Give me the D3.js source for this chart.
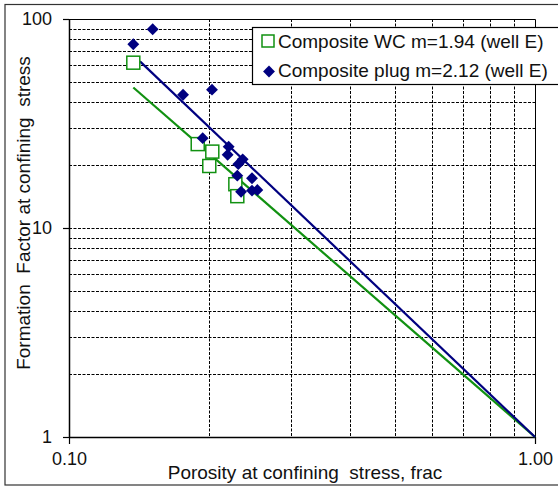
<!DOCTYPE html>
<html><head><meta charset="utf-8">
<script src="https://cdn.jsdelivr.net/npm/d3@7"></script>
<style>body{margin:0;background:#fff}svg{display:block}text{font-family:Arial,"Liberation Sans",sans-serif;fill:#111}</style>
</head><body>
<svg id="c" width="558" height="487"></svg>
<script>
// Data
const wcPoints = [ // Composite WC (open green squares): [porosity, formation factor]
  [0.1374, 61.8], [0.1889, 25.2], [0.2030, 23.2], [0.2000, 19.8], [0.2275, 16.2], [0.2297, 14.2]
];
const plugPoints = [ // Composite plug (blue diamonds)
  [0.1374, 75.7], [0.1512, 89.3], [0.1757, 43.4], [0.2027, 45.9], [0.1936, 26.9],
  [0.2201, 24.5], [0.2190, 22.4], [0.2359, 21.3], [0.2308, 20.2], [0.2297, 17.8],
  [0.2470, 17.3], [0.2340, 14.9], [0.2470, 15.1], [0.2536, 15.2]
];
const wcLine = [[0.1374, 47.0], [1.0, 1.0]];   // m = 1.94
const plugLine = [[0.1420, 62.7], [1.0, 1.0]]; // m = 2.12
const legendLabels = ["Composite WC m=1.94 (well E)", "Composite plug m=2.12 (well E)"];
const xTickLabels = ["0.10", "1.00"];
const xTickValues = [0.1, 1];
const yTickValues = [1, 10, 100];
const xTitle = "Porosity at confining  stress, frac";
const yTitle = "Formation  Factor at confining  stress";

const svg = d3.select("#c");
const L = 69, R = 535, T = 19, B = 437;
const x = d3.scaleLog().domain([0.1, 1]).range([L, R]);
const y = d3.scaleLog().domain([1, 100]).range([B, T]);
const blue = "#000080", green = "#119111";

// outer border
svg.append("rect").attr("x", 5).attr("y", 4.5).attr("width", 600).attr("height", 480.5)
  .attr("fill", "none").attr("stroke", "#333").attr("stroke-width", 1.2);

// gridlines
const gx = [], gy = [];
for (let v = 0.2; v < 0.95; v += 0.1) gx.push(+v.toFixed(1));
[1, 10].forEach(d => { for (let k = 2; k <= 10; k++) gy.push(d * k); });
const grid = svg.append("g").attr("stroke", "#000").attr("stroke-width", 1).attr("stroke-dasharray", "3,1.5");
grid.selectAll("line.gx").data(gx).join("line")
  .attr("x1", d => Math.round(x(d)) + 0.5).attr("x2", d => Math.round(x(d)) + 0.5)
  .attr("y1", T).attr("y2", B);
grid.selectAll("line.gy").data(gy.filter(d => d < 100)).join("line")
  .attr("y1", d => Math.round(y(d)) + 0.5).attr("y2", d => Math.round(y(d)) + 0.5)
  .attr("x1", L).attr("x2", R);

// plot frame top/right
svg.append("path").attr("d", `M${L},${T + 0.5}H${R + 0.5}V${B}`).attr("fill", "none").attr("stroke", "#000").attr("stroke-width", 1);

// axes
const yAxis = d3.axisLeft(y).tickValues(yTickValues).tickFormat(d3.format("d")).tickSize(6).tickPadding(11);
const gY = svg.append("g").attr("transform", `translate(${L},0)`).call(yAxis);
const xAxis = d3.axisBottom(x).tickValues(xTickValues).tickFormat((d, i) => xTickLabels[i]).tickSize(7).tickPadding(8);
const gX = svg.append("g").attr("transform", `translate(0,${B})`).call(xAxis);
[gX, gY].forEach(g => {
  g.select(".domain").attr("stroke", "#000").attr("stroke-width", 1.5);
  g.selectAll(".tick line").attr("stroke", "#000").attr("stroke-width", 1.2);
  g.selectAll(".tick text").attr("font-size", 18).attr("fill", "#222").attr("font-family", "Arial, 'Liberation Sans', sans-serif");
});
gX.select(".domain").attr("d", `M${L},0.5H${R}`);
gY.select(".domain").attr("d", `M0.5,${T}V${B}`);

// fit lines
const line = d3.line().x(d => x(d[0])).y(d => y(d[1]));
svg.append("path").datum(wcLine).attr("d", line).attr("stroke", green).attr("stroke-width", 2.2).attr("fill", "none");
svg.append("path").datum(plugLine).attr("d", line).attr("stroke", blue).attr("stroke-width", 2.2).attr("fill", "none");

// points
const sq = 13;
svg.append("g").selectAll("rect").data(wcPoints).join("rect")
  .attr("x", d => x(d[0]) - sq / 2).attr("y", d => y(d[1]) - sq / 2)
  .attr("width", sq).attr("height", sq).attr("fill", "#fff").attr("stroke", green).attr("stroke-width", 1.5);
const diamond = d3.symbol().type(d3.symbolDiamond2).size(90);
svg.append("g").selectAll("path").data(plugPoints).join("path")
  .attr("transform", d => `translate(${x(d[0])},${y(d[1])})`)
  .attr("d", diamond).attr("fill", blue);

// titles
svg.append("text").attr("x", 305).attr("y", 479).attr("text-anchor", "middle")
  .attr("font-size", 19).style("white-space", "pre").text(xTitle);
svg.append("text").attr("transform", "translate(30,213) rotate(-90)").attr("text-anchor", "middle")
  .attr("font-size", 19).style("white-space", "pre").text(yTitle);

// legend
const lg = svg.append("g");
lg.append("rect").attr("x", 252.5).attr("y", 27.5).attr("width", 400).attr("height", 57)
  .attr("fill", "#fff").attr("stroke", "#000").attr("stroke-width", 1.2);
lg.append("rect").attr("x", 262).attr("y", 35).attr("width", 12).attr("height", 12)
  .attr("fill", "#fff").attr("stroke", green).attr("stroke-width", 1.5);
lg.append("path").attr("transform", "translate(269,71.5)").attr("d", diamond).attr("fill", blue);
lg.selectAll("text").data(legendLabels).join("text")
  .attr("x", 278).attr("y", (d, i) => 48 + i * 29).attr("font-size", 19).text(d => d);
</script>
</body></html>
